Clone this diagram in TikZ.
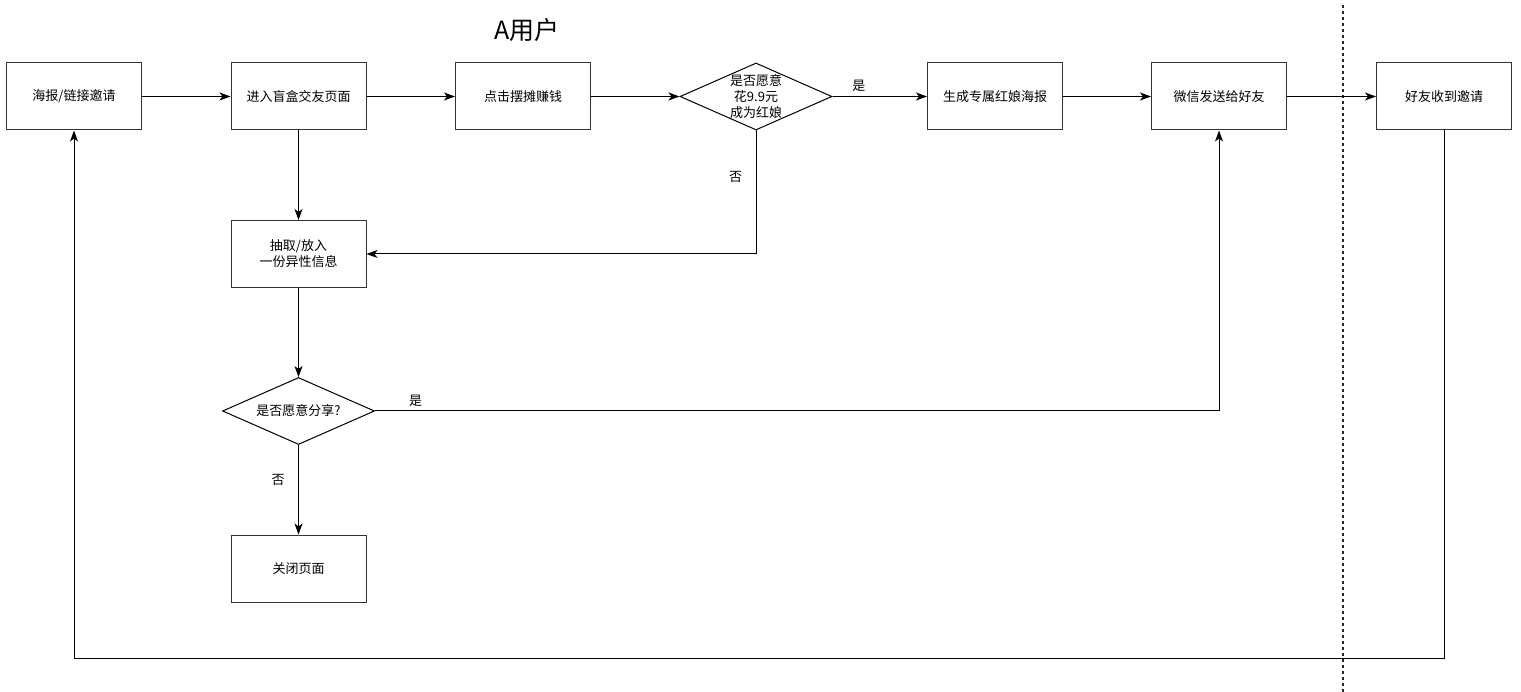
\documentclass[tikz,border=0pt]{standalone}
\usepackage{fontspec}
\setmainfont{Noto Sans CJK SC}
\usetikzlibrary{shapes.geometric,arrows.meta}

\begin{document}
\begin{tikzpicture}[x=1pt, y=-1pt, >={Stealth[length=11pt, width=8pt, inset=3pt]},
    box/.style={draw=black!80, line width=1pt, minimum width=135pt, minimum height=67pt,
        inner sep=2pt, align=center, font=\fontsize{13}{16}\selectfont},
    choice/.style={draw=black, line width=1pt, diamond, aspect=2.27, minimum width=152pt,
        minimum height=67pt, inner sep=0pt,
        label={[align=center, font=\fontsize{13}{16}\selectfont]center:#1}},
    flow/.style={->, line width=1pt},
    lbl/.style={font=\fontsize{13}{16}\selectfont}]

    \useasboundingbox (0,0) rectangle (1521,692);

    % Title
    \node[font=\fontsize{25}{30}\selectfont] (title) at (527,30) {A用户};

    % Top row
    \node[box] (poster) at (74,96.5) {海报/链接邀请};
    \node[box] (enter) at (298.5,96.5) {进入盲盒交友页面};
    \node[box] (stall) at (523,96.5) {点击摆摊赚钱};
    \node[choice={是否愿意\\花9.9元\\成为红娘}] (pay) at (756,96.5) {};
    \node[box] (make) at (995,96.5) {生成专属红娘海报};
    \node[box] (send) at (1219,96.5) {微信发送给好友};
    \node[box] (recv) at (1444,96.5) {好友收到邀请};

    % Left column
    \node[box] (draw) at (298.5,254) {抽取/放入\\一份异性信息};
    \node[choice={是否愿意分享?}] (share) at (298.5,411) {};
    \node[box] (close) at (298.5,568.5) {关闭页面};

    % Divider between A user and friend
    \draw[black!85, line width=1.2pt, dash pattern=on 3pt off 3pt] (1343,5) -- (1343,692);

    % Main flow
    \draw[flow] (poster) -- (enter);
    \draw[flow] (enter) -- (stall);
    \draw[flow] (stall) -- (pay);
    \draw[flow] (pay) -- node[lbl, pos=0.28, above=1pt] {是} (make);
    \draw[flow] (make) -- (send);
    \draw[flow] (send) -- (recv);

    % Branches
    \draw[flow] (pay.south) |- node[lbl, pos=0.19, left=10pt] {否} (draw);
    \draw[flow] (enter) -- (draw);
    \draw[flow] (draw) -- (share);
    \draw[flow] (share.east) -| node[lbl, pos=0.024, above=1pt] {是} (send.south);
    \draw[flow] (share) -- node[lbl, pos=0.385, left=10pt] {否} (close);

    % Back to the start
    \coordinate (loop) at (74,658);
    \draw[flow] (recv.south) |- (loop) -- (poster.south);
\end{tikzpicture}
\end{document}
